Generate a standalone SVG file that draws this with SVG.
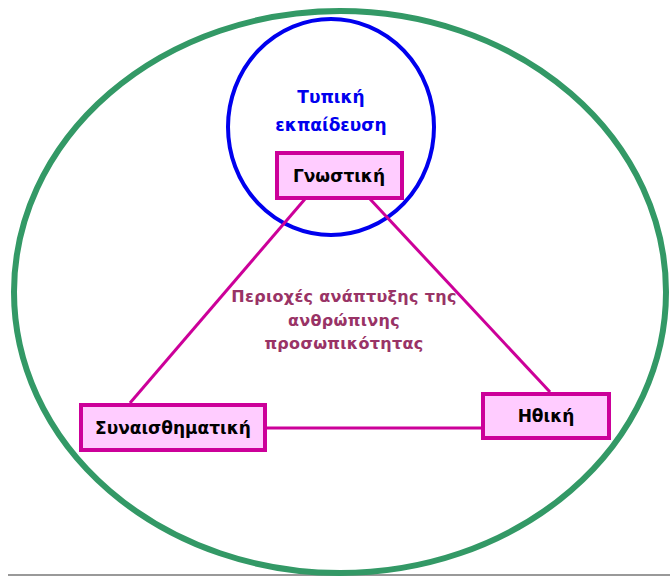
<svg xmlns="http://www.w3.org/2000/svg" width="670" height="578" viewBox="0 0 670 578">
<style>
.box{fill:#ffccff;stroke:#cc0099;stroke-width:4}
.lbl{font-family:"DejaVu Sans",sans-serif;font-weight:bold;font-size:17px;fill:#000;text-anchor:middle}
.con{stroke:#cc0099;stroke-width:3;fill:none}
.mid{font-family:"DejaVu Sans",sans-serif;font-weight:bold;font-size:16px;letter-spacing:0.3px;fill:#993366;text-anchor:middle}
.blue{font-family:"DejaVu Sans",sans-serif;font-weight:bold;font-size:17px;fill:#0000ee;text-anchor:middle}
</style>
<rect width="670" height="578" fill="#fff"/>
<line x1="8" y1="575" x2="670" y2="575" stroke="#999" stroke-width="2"/>
<g id="outer"><ellipse cx="340" cy="292" rx="326" ry="281" fill="none" stroke="#339966" stroke-width="6"/></g>
<g id="formal">
<ellipse cx="331" cy="127" rx="103" ry="108" fill="none" stroke="#0000ee" stroke-width="4"/>
<text class="blue" x="331" y="103">Τυπική</text>
<text class="blue" x="331" y="131">εκπαίδευση</text>
</g>
<g id="connectors">
<line class="con" x1="305" y1="199" x2="130" y2="403"/>
<line class="con" x1="370" y1="199" x2="550" y2="392"/>
<line class="con" x1="266" y1="428" x2="481" y2="428"/>
</g>
<g id="center">
<text class="mid" x="344" y="302">Περιοχές ανάπτυξης της</text>
<text class="mid" x="344" y="326">ανθρώπινης</text>
<text class="mid" x="344" y="349">προσωπικότητας</text>
</g>
<g id="gnostiki"><rect class="box" x="277" y="153" width="125" height="45"/><text class="lbl" x="339" y="182">Γνωστική</text></g>
<g id="synaisthimatiki"><rect class="box" x="81" y="405" width="184" height="45"/><text class="lbl" x="173" y="434">Συναισθηματική</text></g>
<g id="ithiki"><rect class="box" x="483" y="394" width="126" height="44"/><text class="lbl" x="546" y="422">Ηθική</text></g>
</svg>
